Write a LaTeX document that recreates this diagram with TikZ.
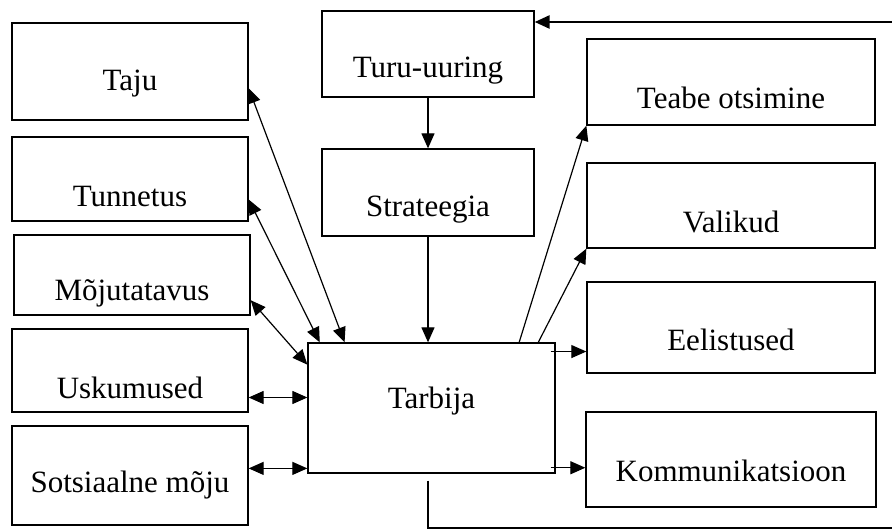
\documentclass[tikz,border=0pt]{standalone}
\usepackage{fontspec}
\setmainfont{Liberation Serif}
\usetikzlibrary{arrows.meta,calc}
\tikzset{
  blok/.style={draw, line width=1.3pt, inner sep=0pt},
  lbl/.style={font=\fontsize{31}{36}\selectfont, inner sep=0pt},
  seos/.style={line width=1.2pt},
  tagasi/.style={line width=2.6pt},
  yks/.style={-{Triangle[length=15pt,width=13pt]}},
  kaks/.style={{Triangle[length=15pt,width=13pt]}-{Triangle[length=15pt,width=13pt]}}
}
\begin{document}
\begin{tikzpicture}[x=1pt,y=-1pt]
	\fill[white] (0,0) rectangle (892,529);
	\useasboundingbox (0,0) rectangle (892,529);
	% vasak veerg
	\node[blok, minimum width=236pt, minimum height=97pt] (taju) at (130,71.5) {};
	\node[blok, minimum width=236pt, minimum height=84pt] (tunnetus) at (130,179) {};
	\node[blok, minimum width=236pt, minimum height=80pt] (mojut) at (132,275) {};
	\node[blok, minimum width=236pt, minimum height=83pt] (usk) at (130,370.5) {};
	\node[blok, minimum width=236pt, minimum height=99pt] (sots) at (130,475.5) {};
	\node[lbl] (tajuT) at (130,84) {Taju};
	\node[lbl] (tunnetusT) at (130,197) {Tunnetus};
	\node[lbl] (mojutT) at (132,293) {Mõjutatavus};
	\node[lbl] (uskT) at (130,388) {Uskumused};
	\node[lbl] (sotsT) at (130,485) {Sotsiaalne mõju};
	% keskmine veerg
	\node[blok, minimum width=212pt, minimum height=86pt] (turu) at (428,54) {};
	\node[blok, minimum width=212pt, minimum height=87pt] (strat) at (428,192.5) {};
	\node[blok, minimum width=247pt, minimum height=130pt] (tarbija) at (431.5,408) {};
	\node[lbl] (turuT) at (428,71) {Turu-uuring};
	\node[lbl] (stratT) at (428,210) {Strateegia};
	\node[lbl] (tarbijaT) at (431.5,401) {Tarbija};
	% parem veerg
	\node[blok, minimum width=288pt, minimum height=86pt] (teabe) at (731,82) {};
	\node[blok, minimum width=288pt, minimum height=85pt] (valik) at (731,205.5) {};
	\node[blok, minimum width=288pt, minimum height=91pt] (eelist) at (731,327.5) {};
	\node[blok, minimum width=290pt, minimum height=95pt] (komm) at (731,459.5) {};
	\node[lbl] (teabeT) at (731,98) {Teabe otsimine};
	\node[lbl] (valikT) at (731,222) {Valikud};
	\node[lbl] (eelistT) at (731,340) {Eelistused};
	\node[lbl] (kommT) at (731,471) {Kommunikatsioon};
	% seosed
	\draw[seos, yks] (turu.south) -- (strat.north);
	\draw[seos, yks] (strat.south) -- (strat.south |- tarbija.north);
	\draw[seos, kaks] ($(taju.north east)!.67!(taju.south east)$) -- ($(tarbija.north west)!.15!(tarbija.north east)$);
	\draw[seos, kaks] ($(tunnetus.north east)!.74!(tunnetus.south east)$) -- ($(tarbija.north west)!.05!(tarbija.north east)$);
	\draw[seos, kaks] ($(mojut.north east)!.81!(mojut.south east)$) -- ($(tarbija.north west)!.17!(tarbija.south west)$);
	\coordinate (uskR) at ($(tarbija.north west)!.42!(tarbija.south west)$);
	\coordinate (sotsR) at ($(tarbija.north west)!.96!(tarbija.south west)$);
	\draw[seos, kaks] (usk.east |- uskR) -- (uskR);
	\draw[seos, kaks] (sots.east |- sotsR) -- (sotsR);
	\draw[seos, yks] ($(tarbija.north west)!.853!(tarbija.north east)$) -- (teabe.south west);
	\draw[seos, yks] ($(tarbija.north west)!.93!(tarbija.north east)$) -- (valik.south west);
	\coordinate (eelistL) at ($(tarbija.north east)!.07!(tarbija.south east)+(-5,0)$);
	\coordinate (kommL) at ($(tarbija.north east)!.955!(tarbija.south east)+(-5,0)$);
	\draw[seos, yks] (eelistL) -- (eelist.west |- eelistL);
	\draw[seos, yks] (kommL) -- (komm.west |- kommL);
	% tagasiside
	\coordinate (tagaA) at (892,528);
	\coordinate (tagaB) at (892,22);
	\draw[tagasi] ($(strat.south |- tarbija.south)+(0,7)$) -- (strat.south |- tagaA) -- (tagaA);
	\draw[tagasi, yks] (tagaB) -- (turu.east |- tagaB);
\end{tikzpicture}
\end{document}
